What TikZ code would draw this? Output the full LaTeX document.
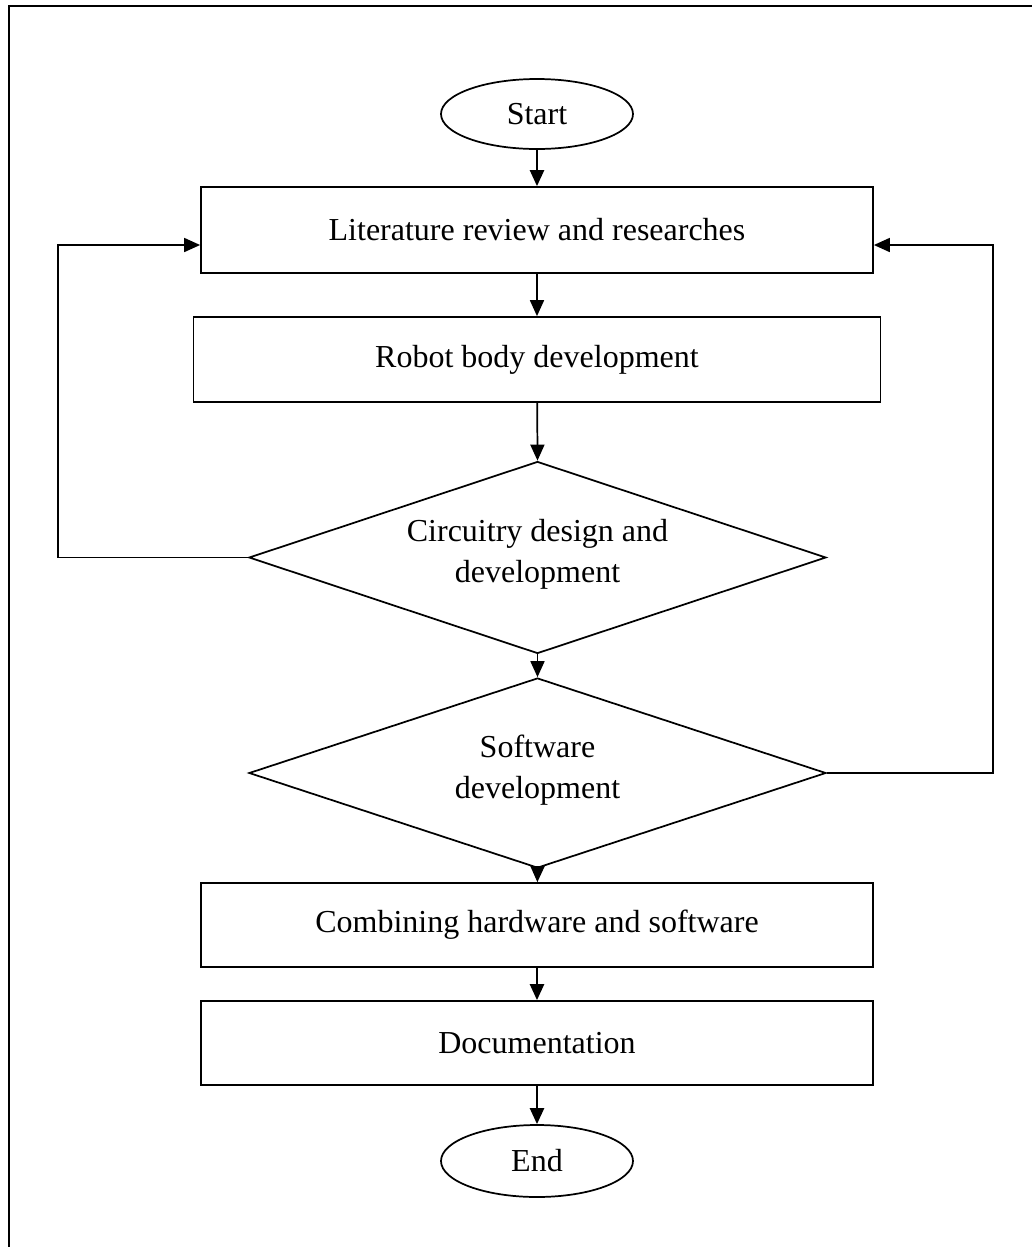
\documentclass[tikz,border=0pt]{standalone}
\usepackage{fontspec}
\setmainfont{Liberation Serif}
\usetikzlibrary{shapes.geometric,arrows.meta}
\begin{document}
\begin{tikzpicture}[x=0.75pt,y=-0.75pt,
  every node/.style={font=\fontsize{24}{31}\selectfont},
  box/.style={draw,line width=1.3pt,minimum width=672*0.75pt,minimum height=86*0.75pt,inner sep=0pt},
  oval/.style={draw,ellipse,line width=1.3pt,minimum width=192*0.75pt,minimum height=70*0.75pt,inner sep=0pt},
  dia/.style={draw,diamond,aspect=3,line width=1.3pt,minimum width=577*0.75pt,minimum height=192*0.75pt,inner sep=0pt,align=center},
  arr/.style={-{Triangle[length=12pt,width=10.5pt]},line width=1.3pt},
  tarr/.style={-{Triangle[length=12pt,width=10.5pt]},line width=1.8pt}]
\useasboundingbox (0,0) rectangle (1032,1247);
\draw[line width=1.8pt] (9,1247) -- (9,6) -- (1032,6);
\node[oval] (start) at (537,114) {Start};
\node[box] (lit) at (537,230) {Literature review and researches};
\node[box,minimum width=687*0.75pt,minimum height=85*0.75pt] (robot) at (537,359.5) {Robot body development};
\node[dia] (circ) at (537.5,557.5) {};
\node at (537.5,554) (ctext) {\begin{tabular}{c}Circuitry design and\\ development\end{tabular}};
\node[dia,minimum height=190*0.75pt] (soft) at (537.5,773) {};
\node at (537.5,770) (stext) {\begin{tabular}{c}Software\\ development\end{tabular}};
\node[box,minimum height=84*0.75pt] (comb) at (537,925) {Combining hardware and software};
\node[box,minimum height=84*0.75pt] (doc) at (537,1043) {Documentation};
\node[oval,minimum height=72*0.75pt] (end) at (537,1161) {End};
\draw[tarr] (start) -- (lit);
\draw[arr] (lit) -- (robot);
\draw[arr] (robot) -- (circ.north);
\draw[arr] (circ.south) -- (soft.north);
\draw[arr] (soft.south) -- (comb);
\draw[tarr] (comb) -- (doc);
\draw[tarr] (doc) -- (end);
\coordinate (l1) at (58,557.5);
\coordinate (l2) at (58,245);
\coordinate (r1) at (993,773);
\coordinate (r2) at (993,245);
\draw[arr] (circ.west) -- (l1) -- (l2) -- (lit.west |- l2);
\draw[arr] (soft.east) -- (r1) -- (r2) -- (lit.east |- r2);
\end{tikzpicture}
\end{document}
